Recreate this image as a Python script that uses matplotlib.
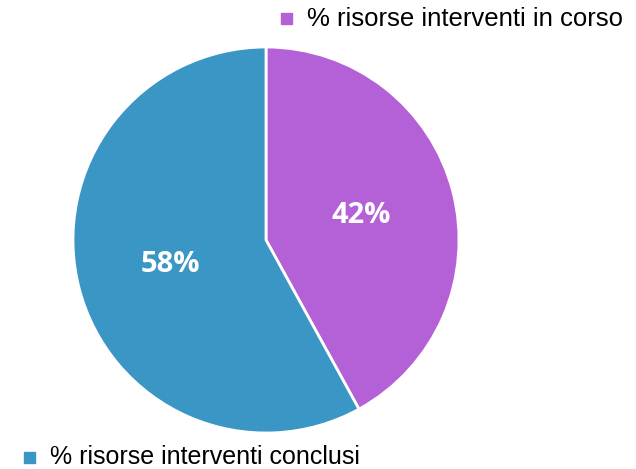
import matplotlib
matplotlib.use("Agg")
import matplotlib.pyplot as plt
from matplotlib.patches import Rectangle

labels = ["% risorse interventi in corso", "% risorse interventi conclusi"]
values = [42, 58]
colors = ["#B460D6", "#3A96C4"]

W, H = 636, 469
fig = plt.figure(figsize=(W/100, H/100), dpi=100)
cx, cy, r = 266, 240, 193
ax = fig.add_axes([(cx - r)/W, (H - cy - r)/H, 2*r/W, 2*r/H])
wedges, texts, autotexts = ax.pie(values, colors=colors, startangle=90, counterclock=False,
       autopct=lambda p: f"{p:.0f}%", pctdistance=0.51,
       wedgeprops=dict(edgecolor="white", linewidth=2),
       textprops=dict(color="white", fontsize=21, fontweight="bold", family="Open Sans"))
ax.set_aspect("equal")
ax.set_xlim(-1, 1); ax.set_ylim(-1, 1)

def legend_item(sx, sy, text, color, tx, fs):
    s = 11
    fig.add_artist(Rectangle(((sx)/W, (H - sy - s/2)/H), s/W, s/H, color=color,
                             transform=fig.transFigure))
    fig.text(tx/W, (H - sy)/H, text, fontsize=fs, family="Liberation Sans",
             va="center", ha="left", color="#000000")

legend_item(281, 19, labels[0], colors[0], 307, 18.5)
legend_item(24, 457, labels[1], colors[1], 50, 18)

fig.savefig("out.png", dpi=100)
